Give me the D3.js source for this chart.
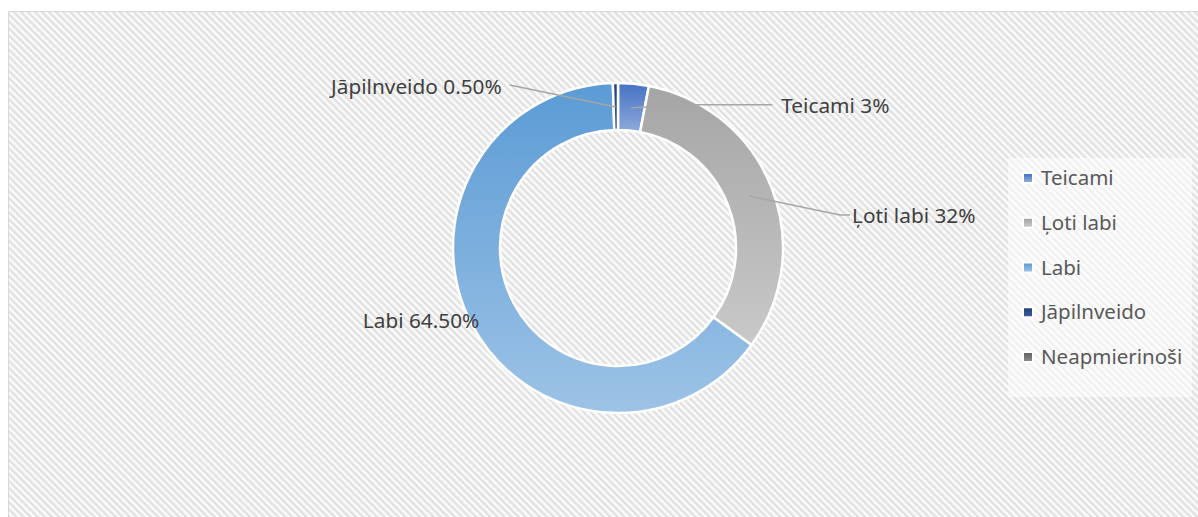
<!DOCTYPE html>
<html>
<head>
<meta charset="utf-8">
<script src="https://cdn.jsdelivr.net/npm/d3@7"></script>
<style>
  body { margin: 0; background: #fff; }
  text { font-family: "Noto Sans", "Open Sans", sans-serif; }
</style>
</head>
<body>
<div id="container"></div>
<script>
var width = 1198, height = 517;

// data
var categories = ["Teicami", "Ļoti labi", "Labi", "Jāpilnveido", "Neapmierinoši"];
var values = [3, 32, 64.5, 0.5, 0];
var labelText = ["3%", "32%", "64.50%", "0.50%", ""];

var colorTop = ["#4472c4", "#a5a5a5", "#5b9bd5", "#264478", "#636363"];
var colorBottom = ["#8faadc", "#c9c9c9", "#9dc3e6", "#3a5a9a", "#8a8a8a"];

var cx = 618, cy = 248, outerR = 165, innerR = 118;

var svg = d3.select("#container").append("svg")
  .attr("width", width)
  .attr("height", height);

var defs = svg.append("defs");

// diagonal hatch background
var pat = defs.append("pattern")
  .attr("id", "hatch")
  .attr("patternUnits", "userSpaceOnUse")
  .attr("width", 5).attr("height", 5)
  .attr("patternTransform", "rotate(-45)");
pat.append("rect").attr("width", 5).attr("height", 5).attr("fill", "#fbfbfb");
pat.append("rect").attr("width", 2.4).attr("height", 5).attr("fill", "#e1e1e1");

svg.append("rect")
  .attr("x", 8.5).attr("y", 11.5)
  .attr("width", width).attr("height", height)
  .attr("fill", "url(#hatch)")
  .attr("stroke", "#d9d9d9");

categories.forEach(function(c, i){
  var g = defs.append("linearGradient")
    .attr("id", "grad" + i)
    .attr("x1", 0).attr("y1", 0).attr("x2", 0).attr("y2", 1);
  g.append("stop").attr("offset", "0%").attr("stop-color", colorTop[i]);
  g.append("stop").attr("offset", "100%").attr("stop-color", colorBottom[i]);
});

var pie = d3.pie().sort(null).value(function(d){ return d; });
var arcs = pie(values);
var arc = d3.arc().innerRadius(innerR).outerRadius(outerR);
var midArc = d3.arc().innerRadius(141).outerRadius(141);

var chart = svg.append("g").attr("transform", "translate(" + cx + "," + cy + ")");

chart.selectAll("path.slice")
  .data(arcs.filter(function(d){ return d.value > 0; }))
  .enter()
  .append("path")
  .attr("class", "slice")
  .attr("d", arc)
  .attr("fill", function(d){ return "url(#grad" + d.index + ")"; })
  .attr("stroke", "#fff")
  .attr("stroke-width", 2.5);

// data labels (offsets from the slice centroid)
var labelLayout = [
  {i: 0, line: [[66, -3], [141, -3]], tx: 150, ty: 5, anchor: "start"},
  {i: 1, line: [[91, 19], [101, 19]], tx: 103, ty: 27, anchor: "start"},
  {i: 2, line: null, tx: -14, ty: 14, anchor: "end"},
  {i: 3, line: [[-106, -22]], tx: -114, ty: -13, anchor: "end"}
];

var labels = chart.append("g");
labelLayout.forEach(function(l){
  var c = midArc.centroid(arcs[l.i]);
  if(l.line){
    var pts = [c].concat(l.line.map(function(p){ return [c[0] + p[0], c[1] + p[1]]; }));
    labels.append("path")
      .attr("d", d3.line()(pts))
      .attr("fill", "none")
      .attr("stroke", "#a6a6a6")
      .attr("stroke-width", 1.5);
  }
  labels.append("text")
    .attr("x", c[0] + l.tx)
    .attr("y", c[1] + l.ty)
    .attr("text-anchor", l.anchor)
    .attr("font-size", 20.8)
    .attr("fill", "#404040")
    .text(categories[l.i] + " " + labelText[l.i]);
});

// legend
var legend = svg.append("g").attr("transform", "translate(1008,158)");
legend.append("rect")
  .attr("width", 184).attr("height", 239)
  .attr("fill", "#fff").attr("opacity", 0.55);

var legendY = d3.scalePoint().domain(categories).range([20, 199]);

var item = legend.selectAll("g.item")
  .data(categories)
  .enter()
  .append("g")
  .attr("class", "item")
  .attr("transform", function(d){ return "translate(0," + legendY(d) + ")"; });

item.append("rect")
  .attr("x", 14).attr("y", -6)
  .attr("width", 12).attr("height", 12)
  .attr("fill", "#fff");
item.append("rect")
  .attr("x", 16).attr("y", -4)
  .attr("width", 8).attr("height", 8)
  .attr("fill", function(d, i){ return "url(#grad" + i + ")"; });
item.append("text")
  .attr("x", 33).attr("y", 7)
  .attr("font-size", 20.5)
  .attr("fill", "#595959")
  .text(function(d){ return d; });
</script>
</body>
</html>
